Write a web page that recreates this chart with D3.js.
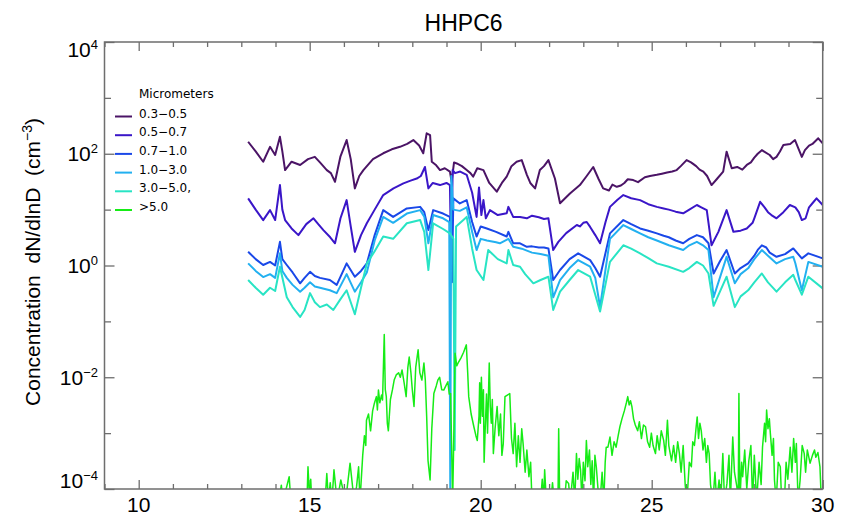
<!DOCTYPE html>
<html>
<head>
<meta charset="utf-8">
<script src="https://cdn.jsdelivr.net/npm/d3@7"></script>
<style>
  body { margin: 0; background: #fff; }
  svg { display: block; }
  text { font-family: "Liberation Sans", Arial, Helvetica, sans-serif; fill: #000; }
  .legend text { font-family: "DejaVu Sans", sans-serif; font-size: 12px; }
  .tick line { stroke: #6e6e6e; stroke-width: 1.3; }
</style>
</head>
<body>
<div id="chart"></div>
<script>
// hour of day vs concentration (cm^-3), one array per size bin
var bins = ['0.3\u22120.5', '0.5\u22120.7', '0.7\u22121.0', '1.0\u22123.0', '3.0\u22125.0,', '>5.0'];
var colors = ['#4b1466', '#3a16c8', '#1a48e8', '#22b0f0', '#28e4c4', '#16ec16'];

var conc03_05 = [[13.20,164],[13.42,110],[13.64,72],[13.84,133],[13.99,95],[14.13,201],[14.20,110],[14.28,51],[14.47,72],[14.72,63],[14.95,80],[15.15,88],[15.30,70],[15.50,51],[15.62,45],[15.74,31.5],[15.90,90],[16.08,176],[16.20,80],[16.32,24],[16.45,40],[16.57,51],[16.85,80],[17.15,102],[17.40,120],[17.64,133],[17.85,150],[18.03,176],[18.20,140],[18.32,102],[18.42,232],[18.52,216],[18.57,72],[18.70,62],[18.81,51],[18.95,55],[19.10,48],[19.15,31.5],[19.22,70],[19.30,67],[19.45,60],[19.59,51],[19.70,45],[19.78,39],[19.90,55],[20.08,51],[20.25,30],[20.47,21],[20.62,30],[20.76,39],[20.90,60],[21.05,72],[21.20,77],[21.35,42],[21.45,30],[21.59,24],[21.73,51],[21.85,60],[21.98,77],[22.17,36],[22.32,13],[22.61,19.5],[22.90,27.5],[23.10,40],[23.29,58],[23.45,35],[23.58,24],[23.75,22],[23.85,28],[23.98,25.6],[24.10,27],[24.20,30],[24.30,35],[24.46,33.8],[24.60,31],[24.80,38],[24.95,40],[25.15,42],[25.30,44],[25.45,46],[25.60,48],[25.73,51],[25.85,60],[26.02,77],[26.15,70],[26.30,60],[26.40,52],[26.51,48],[26.62,40],[26.75,27.5],[26.90,35],[27.09,48],[27.19,109],[27.34,55],[27.50,58],[27.65,52],[27.78,63],[27.90,70],[28.00,85],[28.10,100],[28.22,116],[28.45,95],[28.55,80],[28.65,88],[28.75,110],[28.85,143],[29.05,150],[29.19,176],[29.30,120],[29.39,88],[29.48,116],[29.60,140],[29.70,150],[29.87,189],[30.0,153]];

var conc05_07 = [[13.20,15.9],[13.42,10],[13.64,6.5],[13.84,9.8],[13.99,6.5],[14.13,27.5],[14.20,10],[14.28,6.5],[14.47,4.6],[14.67,3.5],[14.90,5.5],[15.11,7.0],[15.25,5.5],[15.40,4.3],[15.60,3.2],[15.74,2.5],[15.90,7],[16.08,14.8],[16.20,5],[16.32,1.76],[16.50,3.5],[16.67,5.7],[16.90,10],[17.15,18.2],[17.45,24],[17.74,29.5],[17.95,33],[18.13,36],[18.25,40],[18.37,58],[18.47,24],[18.60,30],[18.81,27.5],[19.00,30],[19.10,27.5],[19.14,1.0],[19.18,51],[19.25,45],[19.40,48],[19.59,42],[19.75,20],[19.88,7.4],[19.95,25],[20.02,8],[20.08,14.8],[20.15,7],[20.27,9.8],[20.50,8.0],[20.76,8.6],[20.81,11.2],[20.95,7.4],[21.15,7.4],[21.35,7.0],[21.50,7.8],[21.70,7.3],[21.85,6.8],[21.98,7.0],[22.12,1.89],[22.27,2.65],[22.50,3.8],[22.81,5.3],[22.90,5.0],[23.00,5.8],[23.10,6],[23.20,4.9],[23.35,3.5],[23.49,2.5],[23.65,6],[23.78,11.2],[24.00,15],[24.17,18.2],[24.40,16],[24.66,14.8],[24.90,12.5],[25.15,11.2],[25.35,10.5],[25.50,10],[25.70,9.2],[25.92,8.6],[26.10,10],[26.32,12.1],[26.45,11],[26.61,9.8],[26.75,2.3],[26.95,4],[27.19,9.8],[27.39,4.0],[27.60,4.2],[27.78,4.6],[27.95,5.8],[28.00,7],[28.17,13.8],[28.30,11],[28.40,9],[28.50,8],[28.65,7.0],[28.85,9],[29.04,12.1],[29.20,11],[29.30,9],[29.39,6.5],[29.50,7],[29.60,11],[29.70,13],[29.82,15.9],[30.0,12.1]];

var conc07_10 = [[13.20,1.76],[13.42,1.3],[13.64,1.02],[13.84,1.16],[13.99,1.0],[14.13,2.65],[14.20,1.3],[14.33,1.02],[14.50,0.75],[14.72,0.48],[14.85,0.6],[15.01,0.77],[15.15,0.65],[15.30,0.6],[15.59,0.55],[15.79,0.45],[16.08,1.09],[16.32,0.63],[16.50,0.8],[16.67,1.09],[16.90,3.5],[17.15,9.8],[17.44,7.4],[17.84,10.5],[18.23,11.2],[18.35,9],[18.47,4.3],[18.61,9.8],[18.90,8.5],[19.10,7.4],[19.16,0.5],[19.20,15.9],[19.39,12.9],[19.59,14.8],[19.75,6],[19.88,3.3],[20.00,5],[20.18,4.6],[20.45,4.0],[20.76,3.3],[20.81,4.0],[20.95,2.5],[21.15,2.5],[21.35,2.16],[21.50,2.2],[21.70,2.1],[21.85,2.1],[21.98,2.02],[22.12,0.55],[22.32,0.83],[22.60,1.3],[22.85,1.65],[23.20,1.25],[23.35,0.9],[23.49,0.63],[23.78,3.76],[24.17,6.5],[24.40,5.5],[24.66,4.6],[24.90,4.2],[25.15,3.76],[25.35,3.4],[25.50,3.2],[25.70,2.8],[25.92,2.5],[26.10,3],[26.32,3.5],[26.50,3.2],[26.66,2.5],[26.81,0.72],[27.00,1.2],[27.19,1.89],[27.43,0.72],[27.60,0.9],[27.82,1.09],[28.00,1.5],[28.10,1.9],[28.22,2.3],[28.35,2.1],[28.45,1.7],[28.65,1.43],[28.90,1.6],[29.14,2.02],[29.39,1.34],[29.58,1.65],[30.0,1.34]];

var conc10_30 = [[13.20,1.09],[13.42,0.8],[13.64,0.62],[13.84,0.7],[13.99,0.6],[14.13,1.65],[14.20,0.8],[14.33,0.6],[14.50,0.45],[14.72,0.34],[14.85,0.4],[15.01,0.5],[15.15,0.42],[15.30,0.4],[15.59,0.36],[15.79,0.32],[16.08,0.7],[16.32,0.34],[16.50,0.5],[16.67,0.75],[16.90,2.8],[17.15,7.4],[17.44,5.8],[17.84,8.5],[18.23,9.8],[18.35,7.5],[18.47,2.5],[18.61,8],[18.90,7],[19.08,6],[19.11,0.0001],[19.14,40],[19.20,10],[19.39,9.5],[19.59,11],[19.75,4],[19.88,1.89],[20.00,3],[20.18,2.8],[20.45,2.6],[20.56,2.5],[20.81,3.0],[20.95,2.16],[21.20,2.0],[21.50,1.7],[21.75,1.6],[21.98,1.5],[22.12,0.27],[22.32,0.55],[22.60,0.9],[22.85,1.25],[23.20,0.95],[23.35,0.6],[23.49,0.18],[23.78,3.0],[24.17,5.3],[24.40,4.5],[24.66,3.76],[24.90,3.2],[25.15,2.8],[25.50,2.3],[25.92,1.89],[26.10,2.3],[26.32,2.65],[26.50,2.3],[26.66,1.89],[26.81,0.27],[27.19,1.43],[27.43,0.48],[27.60,0.7],[27.82,0.89],[28.00,1.3],[28.22,1.89],[28.40,1.5],[28.65,1.09],[28.90,1.3],[29.14,1.43],[29.20,1.1],[29.39,0.36],[29.58,1.16],[30.0,0.95]];

var conc30_50 = [[13.20,0.55],[13.42,0.4],[13.64,0.30],[13.84,0.4],[13.99,0.35],[14.13,0.95],[14.33,0.27],[14.50,0.18],[14.72,0.12],[14.85,0.16],[15.01,0.32],[15.15,0.22],[15.30,0.18],[15.50,0.2],[15.69,0.16],[15.90,0.25],[16.08,0.36],[16.32,0.134],[16.50,0.4],[16.67,1.09],[16.90,1.8],[17.15,3.3],[17.44,3.0],[17.84,5.7],[18.23,6.5],[18.35,4],[18.47,0.83],[18.61,5.7],[18.90,4.5],[19.10,3.76],[19.20,3.0],[19.24,0.0005],[19.28,5],[19.59,7.4],[19.75,2],[19.88,0.83],[20.08,0.55],[20.22,1.89],[20.50,1.3],[20.76,1.09],[20.81,1.89],[20.95,1.02],[21.15,0.95],[21.30,0.7],[21.54,0.48],[21.75,0.55],[21.98,0.63],[22.12,0.16],[22.32,0.34],[22.60,0.55],[22.85,0.83],[23.20,0.63],[23.49,0.15],[23.78,1.16],[24.17,2.3],[24.40,2.0],[24.66,1.65],[24.90,1.35],[25.15,1.09],[25.50,0.95],[25.92,0.77],[26.10,0.9],[26.32,1.16],[26.50,1.0],[26.66,0.72],[26.81,0.19],[27.19,0.63],[27.43,0.18],[27.60,0.28],[27.82,0.36],[28.00,0.5],[28.22,0.72],[28.40,0.5],[28.65,0.34],[28.90,0.5],[29.14,0.68],[29.20,0.55],[29.39,0.30],[29.58,0.63],[30.0,0.39]];

// >5.0 um: values below 1e-4 run off the bottom of the plot
var conc50up = [[13.2,6e-5],[14.10,6e-5],[14.17,1.17e-4],[14.22,6e-5],[14.40,1.66e-4],[14.45,6e-5],[14.92,6e-5],[14.95,2.5e-4],[15.0,6e-5],[15.03,1.5e-4],[15.06,6e-5],[15.45,6e-5],[15.50,1.9e-4],[15.55,6e-5],[15.60,1.3e-4],[15.65,6e-5],[15.71,2.2e-4],[15.80,6e-5],[15.91,1.45e-4],[16.05,6e-5],[16.18,2.9e-4],[16.30,6e-5],[16.37,1.1e-4],[16.43,2.5e-4],[16.47,6e-5],[16.55,4e-4],[16.60,9e-4],[16.64,6e-4],[16.66,1.7e-3],[16.72,2.2e-3],[16.78,1.1e-3],[16.84,2.5e-3],[16.89,3.4e-3],[16.95,4.5e-3],[16.98,2.6e-3],[17.01,5.9e-3],[17.05,3.5e-3],[17.10,4.8e-3],[17.13,3.9e-3],[17.18,5.8e-2],[17.21,6e-3],[17.24,4.5e-3],[17.27,1.5e-3],[17.30,1.1e-3],[17.36,4e-3],[17.42,6e-3],[17.47,8.9e-3],[17.53,1.1e-2],[17.60,1.2e-2],[17.65,1.0e-2],[17.70,1.35e-2],[17.76,8e-3],[17.82,4.5e-3],[17.87,1.5e-2],[17.91,2.3e-2],[17.96,1.2e-2],[18.00,6e-3],[18.05,3.0e-3],[18.10,1.5e-2],[18.17,3.1e-2],[18.22,1.2e-2],[18.28,8.9e-3],[18.34,1.8e-2],[18.38,9e-3],[18.42,2e-3],[18.46,3.2e-4],[18.52,1.45e-4],[18.57,1.2e-3],[18.63,5.1e-3],[18.70,7e-3],[18.75,9e-3],[18.80,1.0e-2],[18.86,6e-3],[18.92,5.9e-3],[18.98,7e-3],[19.04,8.3e-3],[19.08,5e-3],[19.12,5.1e-3],[19.18,6e-5],[19.22,1.5e-3],[19.25,2.7e-2],[19.30,1.6e-2],[19.34,1.8e-2],[19.42,2.2e-2],[19.50,2.8e-2],[19.58,3.8e-2],[19.62,1.2e-2],[19.65,4.5e-3],[19.72,2.2e-3],[19.80,1.3e-3],[19.86,9e-4],[19.90,7.4e-4],[19.95,2e-3],[19.97,8e-3],[19.99,1.5e-3],[20.02,1.0e-2],[20.05,2e-3],[20.08,6e-3],[20.10,3e-4],[20.13,1.1e-3],[20.17,5e-3],[20.20,1e-3],[20.25,1.8e-2],[20.28,3e-3],[20.31,1.5e-3],[20.34,4e-3],[20.37,4.3e-4],[20.42,1.2e-3],[20.48,3.0e-3],[20.53,9e-4],[20.58,2.2e-3],[20.62,4e-4],[20.66,6.5e-4],[20.71,4.5e-3],[20.78,4.8e-3],[20.85,5.1e-3],[20.90,8e-4],[20.95,4.3e-4],[21.00,1.5e-3],[21.05,2.5e-4],[21.10,9e-4],[21.15,3e-4],[21.20,1.2e-3],[21.24,6.5e-4],[21.30,2e-4],[21.35,5e-4],[21.41,1.66e-4],[21.46,3e-4],[21.50,6e-5],[21.64,6e-5],[21.75,6e-5],[21.80,1.5e-4],[21.84,6e-5],[21.87,2.2e-4],[21.92,6e-5],[22.05,6e-5],[22.10,1.3e-4],[22.15,6e-5],[22.26,6e-5],[22.28,1.2e-3],[22.31,6e-5],[22.45,6e-5],[22.50,1.4e-4],[22.57,1.26e-4],[22.62,6e-5],[22.70,2e-4],[22.75,6e-5],[22.80,4.3e-4],[22.84,1.5e-4],[22.88,3.5e-4],[22.92,2.2e-4],[22.96,6e-5],[23.00,3e-4],[23.05,1.4e-4],[23.09,7.4e-4],[23.13,2.5e-4],[23.18,5e-4],[23.22,1.2e-4],[23.26,3.2e-4],[23.30,6e-5],[23.34,4e-4],[23.38,2.5e-4],[23.43,1e-4],[23.49,6e-5],[23.55,2e-4],[23.60,6e-5],[23.64,3e-4],[23.67,5.6e-4],[23.72,5.6e-4],[23.78,8.5e-4],[23.84,4e-4],[23.90,7e-4],[23.96,5.6e-4],[24.02,9e-4],[24.07,1.3e-3],[24.13,1.8e-3],[24.20,2.5e-3],[24.26,3.5e-3],[24.30,4.5e-3],[24.34,3.2e-3],[24.38,3.8e-3],[24.42,3.0e-3],[24.47,1.8e-3],[24.52,1.4e-3],[24.59,1.1e-3],[24.64,1.6e-3],[24.70,8e-4],[24.76,1.4e-3],[24.82,1.3e-3],[24.88,7e-4],[24.94,5.6e-4],[24.99,1e-3],[25.04,6e-4],[25.11,4.3e-4],[25.16,9e-4],[25.22,5e-4],[25.28,1.1e-3],[25.35,7.4e-4],[25.40,4e-4],[25.46,1.7e-3],[25.50,6e-4],[25.58,3.2e-4],[25.64,6e-4],[25.70,3e-4],[25.76,7e-4],[25.81,4.3e-4],[25.86,2e-4],[25.92,6e-4],[25.98,1.17e-4],[26.03,6e-5],[26.10,3e-4],[26.16,2.5e-4],[26.20,7e-4],[26.25,6e-4],[26.30,1.3e-3],[26.33,1.95e-3],[26.37,8e-4],[26.41,1.5e-3],[26.45,1.1e-3],[26.50,5e-4],[26.55,8e-4],[26.60,3e-4],[26.64,6e-4],[26.68,4.3e-4],[26.72,1.2e-4],[26.79,6e-5],[26.85,2e-4],[26.90,6e-5],[26.97,1.45e-4],[27.02,6e-5],[27.08,4.3e-4],[27.13,6e-5],[27.20,1.26e-4],[27.26,4e-4],[27.30,6e-5],[27.37,8.5e-4],[27.42,2e-4],[27.49,1.1e-4],[27.53,6e-5],[27.55,5.1e-3],[27.58,6e-5],[27.63,3e-4],[27.66,1.66e-4],[27.72,5e-4],[27.78,1e-4],[27.84,3.2e-4],[27.90,6e-4],[27.95,6e-5],[28.00,4e-4],[28.07,6e-5],[28.14,3e-4],[28.20,1.2e-4],[28.24,5.6e-4],[28.30,1.5e-3],[28.33,7e-4],[28.36,2.6e-3],[28.40,1.2e-3],[28.44,1.8e-3],[28.47,9.8e-4],[28.52,4e-4],[28.56,8e-4],[28.59,1.45e-4],[28.64,6e-5],[28.70,3e-4],[28.76,2.5e-4],[28.80,6e-5],[28.88,6e-5],[28.93,3e-4],[28.98,1.5e-4],[29.05,5.6e-4],[29.10,2e-4],[29.15,8e-4],[29.20,3e-4],[29.23,6.5e-4],[29.28,6e-5],[29.34,1.45e-4],[29.40,6e-4],[29.46,4.3e-4],[29.50,2e-4],[29.55,5e-4],[29.63,2.9e-4],[29.70,4e-4],[29.76,5e-4],[29.80,3.7e-4],[29.86,4.5e-4],[29.92,2.5e-4],[29.96,6e-5],[30.0,6e-5]];

var series = [conc03_05, conc05_07, conc07_10, conc10_30, conc30_50, conc50up];

var xMajor = [10, 15, 20, 25, 30];
var yMajor = [1e-4, 1e-2, 1e0, 1e2, 1e4];
var yExp = ['\u22124', '\u22122', '0', '2', '4'];

var W = 843, H = 522;
var plot = { left: 104.5, right: 822.7, top: 42, bottom: 489 };

var svg = d3.select('#chart').append('svg')
    .attr('width', W)
    .attr('height', H);

var x = d3.scaleLinear().domain([9, 30]).range([plot.left, plot.right]);
var y = d3.scaleLog().domain([1e-4, 1e4]).range([plot.bottom, plot.top]);

svg.append('defs').append('clipPath')
    .attr('id', 'plotclip')
    .append('rect')
    .attr('x', plot.left)
    .attr('y', plot.top)
    .attr('width', plot.right - plot.left)
    .attr('height', plot.bottom - plot.top);

// ticks point inward on all four sides
var xMinor = d3.range(9, 31).filter(function(d) { return xMajor.indexOf(d) < 0; });
var yMinor = [1e-3, 1e-1, 1e1, 1e3];

function noDomain(g) { g.select('.domain').remove(); }

svg.append('g').attr('transform', 'translate(0,' + plot.bottom + ')')
    .call(d3.axisBottom(x).tickValues(xMajor).tickSize(-9).tickFormat('')).call(noDomain);
svg.append('g').attr('transform', 'translate(0,' + plot.bottom + ')')
    .call(d3.axisBottom(x).tickValues(xMinor).tickSize(-5).tickFormat('')).call(noDomain);
svg.append('g').attr('transform', 'translate(0,' + plot.top + ')')
    .call(d3.axisTop(x).tickValues(xMajor).tickSize(-9).tickFormat('')).call(noDomain);
svg.append('g').attr('transform', 'translate(0,' + plot.top + ')')
    .call(d3.axisTop(x).tickValues(xMinor).tickSize(-5).tickFormat('')).call(noDomain);
svg.append('g').attr('transform', 'translate(' + plot.left + ',0)')
    .call(d3.axisLeft(y).tickValues(yMajor).tickSize(-10).tickFormat('')).call(noDomain);
svg.append('g').attr('transform', 'translate(' + plot.left + ',0)')
    .call(d3.axisLeft(y).tickValues(yMinor).tickSize(-6.5).tickFormat('')).call(noDomain);
svg.append('g').attr('transform', 'translate(' + plot.right + ',0)')
    .call(d3.axisRight(y).tickValues(yMajor).tickSize(-10).tickFormat('')).call(noDomain);
svg.append('g').attr('transform', 'translate(' + plot.right + ',0)')
    .call(d3.axisRight(y).tickValues(yMinor).tickSize(-6.5).tickFormat('')).call(noDomain);

// data lines
var line = d3.line()
    .x(function(d) { return x(d[0]); })
    .y(function(d) { return y(d[1]); });

var lines = svg.append('g').attr('clip-path', 'url(#plotclip)');
series.forEach(function(s, i) {
    lines.append('path')
        .datum(s)
        .attr('fill', 'none')
        .attr('stroke', colors[i])
        .attr('stroke-width', i === 5 ? 1.5 : 2)
        .attr('stroke-linejoin', 'round')
        .attr('d', line);
});

// frame
svg.append('rect')
    .attr('x', plot.left)
    .attr('y', plot.top)
    .attr('width', plot.right - plot.left)
    .attr('height', plot.bottom - plot.top)
    .attr('fill', 'none')
    .attr('stroke', '#6e6e6e')
    .attr('stroke-width', 1.5);

// x labels
svg.append('g').selectAll('text')
    .data(xMajor)
    .enter().append('text')
    .attr('x', function(d) { return x(d); })
    .attr('y', 512)
    .attr('text-anchor', 'middle')
    .style('font-size', '21px')
    .text(function(d) { return d; });

// y labels, 10 with superscript exponent
var yl = svg.append('g').selectAll('text')
    .data(yMajor)
    .enter().append('text')
    .attr('x', 98)
    .attr('y', function(d) { return Math.min(488, Math.max(57, y(d) + 7.5)); })
    .attr('text-anchor', 'end')
    .style('font-size', '21px');
yl.append('tspan').text('10');
yl.append('tspan')
    .attr('dy', -8)
    .style('font-size', '13px')
    .text(function(d, i) { return yExp[i]; });

// title
svg.append('text')
    .attr('x', (plot.left + plot.right) / 2)
    .attr('y', 31)
    .attr('text-anchor', 'middle')
    .style('font-size', '23px')
    .text('HHPC6');

// y axis title
var yt = svg.append('text')
    .attr('transform', 'translate(40,262) rotate(-90)')
    .attr('text-anchor', 'middle')
    .style('font-size', '21px')
    .attr('xml:space', 'preserve');
yt.append('tspan').text('Concentration  dN/dlnD  (cm');
yt.append('tspan').attr('dy', -8).style('font-size', '14px').text('\u22123');
yt.append('tspan').attr('dy', 8).text(')');

// legend
var legend = svg.append('g').attr('class', 'legend');
legend.append('text')
    .attr('x', 139)
    .attr('y', 98)
    .text('Micrometers');
bins.forEach(function(b, i) {
    var ly = 116.5 + i * 18.7;
    legend.append('line')
        .attr('x1', 115).attr('x2', 132)
        .attr('y1', ly).attr('y2', ly)
        .attr('stroke', colors[i])
        .attr('stroke-width', 2);
    legend.append('text')
        .attr('x', 139)
        .attr('y', ly + 1)
        .text(b);
});
</script>
</body>
</html>
